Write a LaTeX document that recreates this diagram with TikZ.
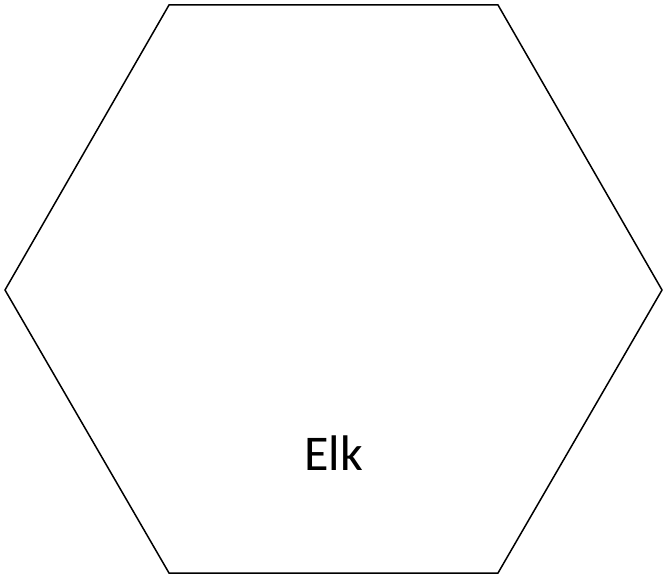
\documentclass[tikz,border=0pt]{standalone}
\usepackage{fontspec}
\setmainfont{Carlito}
\begin{document}
\begin{tikzpicture}[x=1pt, y=-1pt, every node/.style={inner sep=0pt}]
        \useasboundingbox (0,0) rectangle (663,578);
        \foreach \i/\px/\py in {1/169/5,2/498/5,3/662/290,4/498/573,5/169/573,6/5/290} {
            \coordinate (h\i) at (\px,\py);
        }
        \draw[line width=1.5pt, line join=miter] (h1)--(h2)--(h3)--(h4)--(h5)--(h6)--cycle;
        \node[anchor=base, font=\fontsize{50}{60}\selectfont] (elk) at (333.5,470) {Elk};
    \end{tikzpicture}
\end{document}
